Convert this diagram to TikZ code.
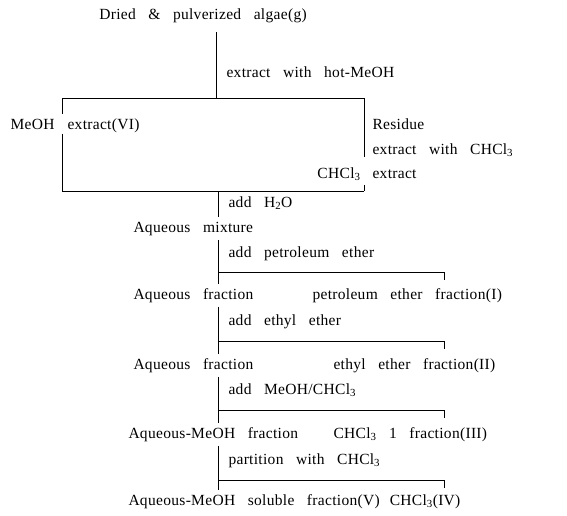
\documentclass[tikz,border=0pt]{standalone}
\usepackage{fontspec}
\setmainfont[LetterSpace=2,WordSpace={3,1,1}]{Liberation Serif}
\usetikzlibrary{positioning,calc}

\begin{document}
\begin{tikzpicture}[x=1pt,y=-1pt,line width=1pt,font=\fontsize{15.5}{17}\selectfont]
\tikzstyle{t}=[inner sep=0pt,anchor=base west]
\tikzstyle{gap}=[inner ysep=4pt]
\useasboundingbox (0,0) rectangle (567,515);
% starting material and MeOH extraction
\node[t,anchor=base] (alg) at (203,19) {Dried \& pulverized algae(g)};
\coordinate (a0) at (216,32);
\coordinate (a1) at (216,98);
\node[t] (hot) at (226,77) {extract with hot-MeOH};
\draw (a0) -- (a1);
% box of the two extracts
\coordinate (tl) at (62,98);
\coordinate (tr) at (364,98);
\coordinate (bl) at (62,191);
\coordinate (br) at (364,191);
\node[t,gap,anchor=base east] (meoh) at (55,129) {MeOH};
\node[t] (ext6) at (67,129) {extract(VI)};
\node[t] (res) at (372,129) {Residue};
\node[t] (exc) at (372,154) {extract with CHCl\textsubscript{3}};
\node[t,gap,anchor=base east] (chc) at (361,178) {CHCl\textsubscript{3}};
\node[t] (cext) at (372,178) {extract};
\draw (tl) -- (tr);
\draw (tl) -- (meoh.north -| tl);
\draw (meoh.south -| tl) -- (bl) -- (br);
\draw (tr) -- (tr |- exc.south);
\draw (chc.south -| br) -- (br);
% aqueous mixture
\coordinate (b0) at (218,191);
\node[t] (h2o) at (228,207) {add H\textsubscript{2}O};
\node[t,gap] (mix) at (133,232) {Aqueous mixture};
\draw (b0) -- (b0 |- mix.north);
% petroleum ether
\node[t] (pe) at (228,257) {add petroleum ether};
\coordinate (s1) at (218,272);
\coordinate (e1) at (444,272);
\node[t,gap] (aq1) at (133,299) {Aqueous fraction};
\node[t] (f1) at (312,299) {petroleum ether fraction(I)};
\draw (mix.south -| s1) -- (aq1.north -| s1);
\draw (s1) -- (e1) -- ([yshift=-8pt]e1);
% ethyl ether
\node[t] (ee) at (228,325) {add ethyl ether};
\coordinate (s2) at (218,341);
\coordinate (e2) at (444,341);
\node[t,gap] (aq2) at (133,369) {Aqueous fraction};
\node[t] (f2) at (333,369) {ethyl ether fraction(II)};
\draw (aq1.south -| s2) -- (aq2.north -| s2);
\draw (s2) -- (e2) -- ([yshift=-8pt]e2);
% MeOH/CHCl3
\node[t] (mc) at (228,394) {add MeOH/CHCl\textsubscript{3}};
\coordinate (s3) at (218,410);
\coordinate (e3) at (444,410);
\node[t,gap] (aq3) at (128,438) {Aqueous-MeOH fraction};
\node[t] (f3) at (333,438) {CHCl\textsubscript{3} 1 fraction(III)};
\draw (aq2.south -| s3) -- (aq3.north -| s3);
\draw (s3) -- (e3) -- ([yshift=-8pt]e3);
% partition
\node[t] (pc) at (228,464) {partition with CHCl\textsubscript{3}};
\coordinate (s4) at (218,480);
\coordinate (e4) at (444,480);
\node[t,gap] (aq4) at (128,505) {Aqueous-MeOH soluble fraction(V)};
\node[t,right=9pt of aq4.base east,anchor=base west] (f4) {CHCl\textsubscript{3}(IV)};
\draw (aq3.south -| s4) -- (aq4.north -| s4);
\draw (s4) -- (e4) -- ([yshift=-8pt]e4);
\end{tikzpicture}
\end{document}
